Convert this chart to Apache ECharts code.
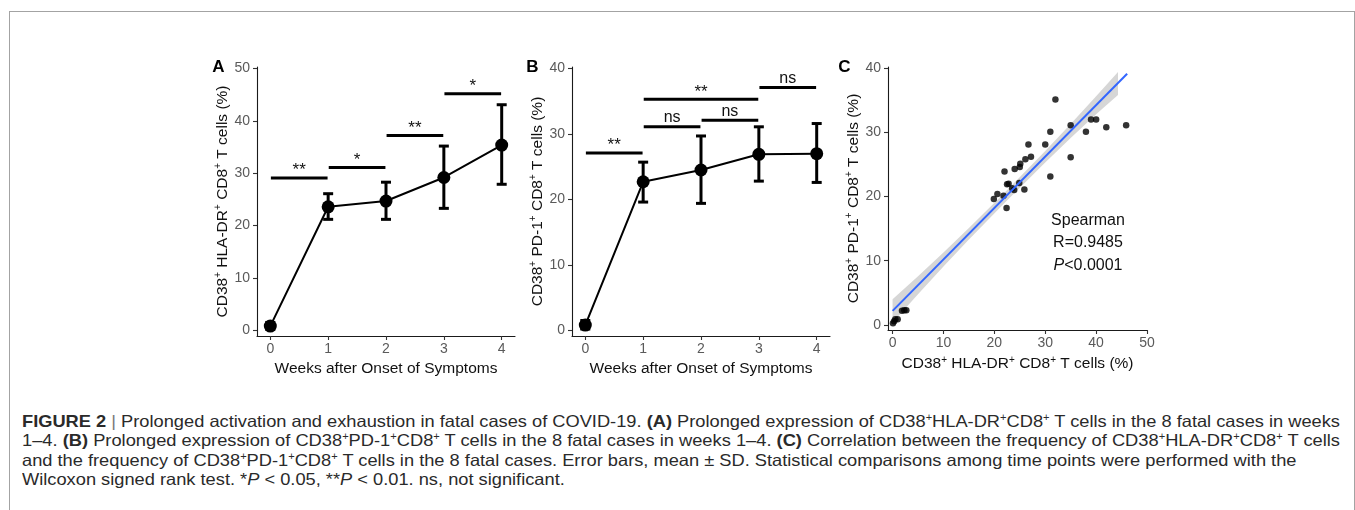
<!DOCTYPE html>
<html>
<head>
<meta charset="utf-8">
<script src="https://cdn.jsdelivr.net/npm/echarts@6/dist/echarts.min.js"></script>
<style>
html, body { margin: 0; padding: 0; background: #fff; }
#wrap { position: relative; width: 1355px; height: 510px; overflow: hidden; }
#frame { position: absolute; left: 9px; top: 11px; width: 1346px; height: 560px; border: 1px solid #a3a3a3; box-sizing: border-box; }
#chart { position: absolute; left: 0; top: 0; width: 1355px; height: 395px; }
#caption { position: absolute; left: 22px; top: 412px; font-family: "Liberation Sans Narrow", "Liberation Sans", Arial, sans-serif; font-size: 16.5px; line-height: 19.3px; color: #2a2a2a; white-space: nowrap; }
#caption .ln { display: block; width: max-content; transform-origin: 0 0; height: 19.3px; }
#caption sup { font-size: 10px; vertical-align: 6px; line-height: 0; }
#caption .sep { color: #777; }
</style>
</head>
<body>
<div id="wrap">
  <div id="frame"></div>
  <div id="chart"></div>
  <div id="caption">
    <span class="ln"><b>FIGURE 2</b> <span class="sep">|</span> Prolonged activation and exhaustion in fatal cases of COVID-19. <b>(A)</b> Prolonged expression of CD38<sup>+</sup>HLA-DR<sup>+</sup>CD8<sup>+</sup> T cells in the 8 fatal cases in weeks</span>
    <span class="ln">1–4. <b>(B)</b> Prolonged expression of CD38<sup>+</sup>PD-1<sup>+</sup>CD8<sup>+</sup> T cells in the 8 fatal cases in weeks 1–4. <b>(C)</b> Correlation between the frequency of CD38<sup>+</sup>HLA-DR<sup>+</sup>CD8<sup>+</sup> T cells</span>
    <span class="ln">and the frequency of CD38<sup>+</sup>PD-1<sup>+</sup>CD8<sup>+</sup> T cells in the 8 fatal cases. Error bars, mean ± SD. Statistical comparisons among time points were performed with the</span>
    <span class="ln">Wilcoxon signed rank test. *<i>P</i> &lt; 0.05, **<i>P</i> &lt; 0.01. ns, not significant.</span>
  </div>
</div>
<script>
// panel A / B: weekly means with SD
const weeks = [0, 1, 2, 3, 4];
const hlaMean = [0.8, 23.6, 24.7, 29.2, 35.4];
const hlaLow = [0.2, 21.2, 21.2, 23.3, 27.9];
const hlaHigh = [1.5, 26.1, 28.3, 35.2, 43.1];
const pd1Mean = [0.8, 22.7, 24.5, 26.9, 27.0];
const pd1Low = [0.2, 19.6, 19.4, 22.8, 22.6];
const pd1High = [1.5, 25.7, 29.7, 31.1, 31.6];

// significance brackets: from week, to week, height, label
const hlaSig = [[0, 1, 29.1, '**'], [1, 2, 31.1, '*'], [2, 3, 37.2, '**'], [3, 4, 45.2, '*']];
const pd1Sig = [[0, 1, 27.1, '**'], [1, 2, 31.1, 'ns'], [2, 3, 32.1, 'ns'], [1, 3, 35.3, '**'], [3, 4, 37.1, 'ns']];

// panel C: correlation
const corrX = [0.08, 0.3, 0.53, 1.0, 1.85, 2.3, 2.7, 19.9, 20.6, 21.8, 22.0, 22.4, 22.5, 22.8, 23.5, 23.9, 24.0, 24.9, 25.0, 25.1, 25.9, 26.1, 26.7, 27.2, 30.0, 31.0, 31.0, 32.0, 35.0, 35.0, 38.0, 39.0, 40.0, 42.0, 45.9];
const corrY = [0.26, 0.6, 0.9, 0.9, 2.2, 2.3, 2.3, 19.6, 20.4, 20.1, 23.9, 18.2, 21.9, 22.0, 21.3, 21.0, 24.3, 22.1, 24.6, 25.1, 21.1, 25.8, 28.1, 26.2, 28.1, 30.1, 23.1, 35.1, 31.1, 26.1, 30.1, 32.0, 32.0, 30.8, 31.1];
const fitX = [0, 46.1];
const fitY = [2.2, 39.1];
const bandX = [0, 5, 10, 15, 22, 30, 35, 40, 44.3];
const bandLow = [0.4, 4.8, 9.1, 13.3, 19.0, 25.3, 29.1, 32.8, 35.8];
const bandHigh = [4.0, 7.6, 11.3, 15.1, 20.6, 27.1, 31.3, 35.6, 39.4];

const yTicksA = [0, 10, 20, 30, 40, 50];
const yTicksB = [0, 10, 20, 30, 40];
const xTicksC = [0, 10, 20, 30, 40, 50];
const yTicksC = [0, 10, 20, 30, 40];

const FONT = 'Liberation Sans';

const titleRich = {
    b: { fontSize: 15.5, color: '#111', fontFamily: FONT, lineHeight: 18 },
    s: { fontSize: 10, color: '#111', fontFamily: FONT, lineHeight: 10, verticalAlign: 'top' }
};

function axis(ticks, min, max, extra) {
    return Object.assign({
        type: 'value',
        min: min,
        max: max,
        axisLine: { onZero: false, lineStyle: { color: '#1a1a1a', width: 1.1 } },
        axisTick: { length: 4, customValues: ticks, lineStyle: { color: '#333', width: 1.1 } },
        axisLabel: { customValues: ticks, color: '#5a5a5a', fontSize: 14, fontFamily: FONT },
        splitLine: { show: false },
        nameTextStyle: { rich: titleRich }
    }, extra);
}

function xWeeks(grid) {
    return axis(weeks, -0.23, 4.23, {
        gridIndex: grid,
        name: '{b|Weeks after Onset of Symptoms}',
        nameLocation: 'middle',
        nameGap: 19,
        axisLabel: { customValues: weeks, color: '#5a5a5a', fontSize: 14, fontFamily: FONT, margin: 6 }
    });
}

function yLeft(grid, ticks, min, max, name) {
    return axis(ticks, min, max, {
        gridIndex: grid,
        name: name,
        nameLocation: 'middle',
        nameGap: 24,
        nameRotate: 90,
        axisLabel: { customValues: ticks, color: '#5a5a5a', fontSize: 14, fontFamily: FONT, margin: 7 }
    });
}

function errorBars(grid, low, high) {
    return {
        type: 'custom',
        xAxisIndex: grid,
        yAxisIndex: grid,
        data: weeks.map((w, i) => [w, low[i], high[i]]),
        renderItem: function (params, api) {
            const top = api.coord([api.value(0), api.value(2)]);
            const bot = api.coord([api.value(0), api.value(1)]);
            const cap = 5;
            const style = { stroke: '#000', lineWidth: 3 };
            return {
                type: 'group',
                children: [
                    { type: 'line', shape: { x1: top[0], y1: top[1], x2: bot[0], y2: bot[1] }, style: style },
                    { type: 'line', shape: { x1: top[0] - cap, y1: top[1], x2: top[0] + cap, y2: top[1] }, style: style },
                    { type: 'line', shape: { x1: bot[0] - cap, y1: bot[1], x2: bot[0] + cap, y2: bot[1] }, style: style }
                ]
            };
        }
    };
}

function meanLine(grid, mean) {
    return {
        type: 'line',
        xAxisIndex: grid,
        yAxisIndex: grid,
        data: weeks.map((w, i) => [w, mean[i]]),
        symbol: 'circle',
        symbolSize: 13,
        itemStyle: { color: '#000' },
        lineStyle: { color: '#000', width: 2 }
    };
}

function sigBars(grid, sig) {
    return {
        type: 'custom',
        xAxisIndex: grid,
        yAxisIndex: grid,
        data: sig.map(s => [s[0], s[1], s[2]]),
        renderItem: function (params, api) {
            const p1 = api.coord([api.value(0) + 0.01, api.value(2)]);
            const p2 = api.coord([api.value(1) - 0.01, api.value(2)]);
            const label = sig[params.dataIndex][3];
            const star = label.indexOf('*') >= 0;
            return {
                type: 'group',
                children: [
                    { type: 'line', shape: { x1: p1[0], y1: p1[1], x2: p2[0], y2: p2[1] }, style: { stroke: '#000', lineWidth: 3 } },
                    { type: 'text', x: (p1[0] + p2[0]) / 2, y: p1[1] - (star ? -1 : 1),
                      style: { text: label, fill: '#111', fontSize: star ? 17 : 16, fontFamily: FONT, align: 'center', verticalAlign: 'bottom' } }
                ]
            };
        }
    };
}

const chart = echarts.init(document.getElementById('chart'), null, { renderer: 'canvas' });

const option = {
    animation: false,
    grid: [
        { left: 257, top: 67, width: 258, height: 269 },
        { left: 572, top: 67, width: 258, height: 269 },
        { left: 888, top: 67, width: 259, height: 263 }
    ],
    xAxis: [
        xWeeks(0),
        xWeeks(1),
        axis(xTicksC, -0.9, 50, {
            gridIndex: 2,
            name: '{b|CD38}{s|+}{b| HLA-DR}{s|+}{b| CD8}{s|+}{b| T cells (%)}',
            nameLocation: 'middle',
            nameGap: 18,
            axisLabel: { customValues: xTicksC, color: '#5a5a5a', fontSize: 14, fontFamily: FONT, margin: 6 }
        })
    ],
    yAxis: [
        yLeft(0, yTicksA, -1.09, 50.31, '{b|CD38}{s|+}{b| HLA-DR}{s|+}{b| CD8}{s|+}{b| T cells (%)}'),
        yLeft(1, yTicksB, -0.87, 40.24, '{b|CD38}{s|+}{b| PD-1}{s|+}{b| CD8}{s|+}{b| T cells (%)}'),
        yLeft(2, yTicksC, -0.78, 40.16, '{b|CD38}{s|+}{b| PD-1}{s|+}{b| CD8}{s|+}{b| T cells (%)}')
    ],
    series: [
        meanLine(0, hlaMean),
        errorBars(0, hlaLow, hlaHigh),
        sigBars(0, hlaSig),
        meanLine(1, pd1Mean),
        errorBars(1, pd1Low, pd1High),
        sigBars(1, pd1Sig),
        {
            type: 'scatter',
            xAxisIndex: 2,
            yAxisIndex: 2,
            data: corrX.map((x, i) => [x, corrY[i]]),
            symbolSize: 6.5,
            itemStyle: { color: '#000' }
        },
        {
            type: 'custom',
            xAxisIndex: 2,
            yAxisIndex: 2,
            data: bandX.map((x, i) => [x, bandLow[i], bandHigh[i]]),
            renderItem: function (params, api) {
                if (params.dataIndex !== 0) return;
                const pts = [];
                bandX.forEach((x, i) => pts.push(api.coord([x, bandHigh[i]])));
                for (let i = bandX.length - 1; i >= 0; i--) pts.push(api.coord([bandX[i], bandLow[i]]));
                return { type: 'polygon', shape: { points: pts }, style: { fill: 'rgba(153,153,153,0.4)' } };
            }
        },
        {
            type: 'line',
            xAxisIndex: 2,
            yAxisIndex: 2,
            data: fitX.map((x, i) => [x, fitY[i]]),
            symbol: 'none',
            lineStyle: { color: '#3366ff', width: 2 }
        }
    ],
    graphic: [
        { type: 'text', x: 218.5, y: 67.5, style: { text: 'A', fontSize: 17, fontWeight: 'bold', fontFamily: FONT, fill: '#000', align: 'center', verticalAlign: 'middle' } },
        { type: 'text', x: 532.5, y: 67.5, style: { text: 'B', fontSize: 17, fontWeight: 'bold', fontFamily: FONT, fill: '#000', align: 'center', verticalAlign: 'middle' } },
        { type: 'text', x: 844.5, y: 67.5, style: { text: 'C', fontSize: 17, fontWeight: 'bold', fontFamily: FONT, fill: '#000', align: 'center', verticalAlign: 'middle' } },
        { type: 'text', x: 1088, y: 209, style: {
            text: '{n|Spearman}\n{n|R=0.9485}\n{i|P}{n|<0.0001}',
            align: 'center', verticalAlign: 'top',
            rich: {
                n: { fontSize: 16, fontFamily: FONT, fill: '#111', lineHeight: 22.5 },
                i: { fontSize: 16, fontFamily: FONT, fill: '#111', fontStyle: 'italic', lineHeight: 22.5 }
            }
        } }
    ]
};

chart.setOption(option);

// fit caption lines to the justified width of the original
const lines = document.querySelectorAll('#caption .ln');
const target = 1318;
const base = target / lines[0].getBoundingClientRect().width;
lines.forEach((ln, i) => {
    const s = i < 2 ? target / ln.getBoundingClientRect().width : base;
    ln.style.transform = 'scaleX(' + s + ')';
});
</script>
</body>
</html>
